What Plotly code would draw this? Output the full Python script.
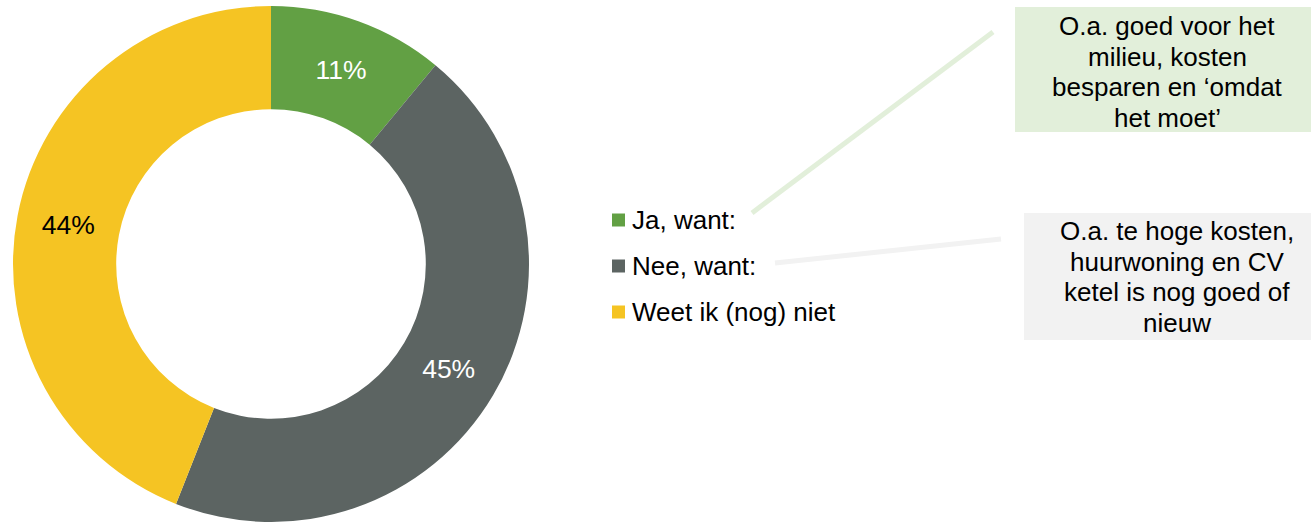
import plotly.graph_objects as go

categories = ["Ja, want:", "Nee, want:", "Weet ik (nog) niet"]
values = [11, 45, 44]
colors = ["#62A044", "#5C6462", "#F5C423"]
label_colors = ["#FFFFFF", "#FFFFFF", "#000000"]
reason_ja = ["O.a. goed voor het", "milieu, kosten", "besparen en ‘omdat", "het moet’"]
reason_nee = ["O.a. te hoge kosten,", "huurwoning en CV", "ketel is nog goed of", "nieuw"]

W, H = 1311, 522
FONT = "Liberation Sans, Arial, sans-serif"

def px(x):
    return x / W

def py(y):
    return 1 - y / H

fig = go.Figure()
fig.add_trace(go.Pie(
    labels=categories, values=values, sort=False, direction="clockwise",
    rotation=0, hole=0.6,
    marker=dict(colors=colors, line=dict(width=0)),
    texttemplate="%{percent:.0%}", textinfo="percent",
    textposition="inside", insidetextorientation="horizontal",
    textfont=dict(color=label_colors, size=26.5, family=FONT),
    domain=dict(x=[px(13), px(529)], y=[0, py(6)]),
    showlegend=False, hoverinfo="label+percent",
))

shapes = []
annotations = []

# legend
leg_y = [220, 266, 312]
for cat, col, y in zip(categories, colors, leg_y):
    shapes.append(dict(type="rect", xref="paper", yref="paper",
                       x0=px(612), x1=px(625), y0=py(y - 6.5), y1=py(y + 6.5),
                       fillcolor=col, line=dict(width=0)))
    annotations.append(dict(xref="paper", yref="paper", x=px(630), y=py(y),
                            xanchor="left", yanchor="middle", showarrow=False,
                            text=cat, font=dict(size=26, color="#000000", family=FONT)))

# callout boxes
shapes.append(dict(type="rect", xref="paper", yref="paper",
                   x0=px(1015), x1=px(1311), y0=py(132), y1=py(7),
                   fillcolor="#E2EFDA", line=dict(width=0), layer="below"))
shapes.append(dict(type="rect", xref="paper", yref="paper",
                   x0=px(1024), x1=px(1311), y0=py(340), y1=py(213),
                   fillcolor="#F2F2F2", line=dict(width=0), layer="below"))
# connector lines
shapes.append(dict(type="line", xref="paper", yref="paper",
                   x0=px(752), y0=py(213), x1=px(993), y1=py(32),
                   line=dict(color="#E2EFDA", width=5)))
shapes.append(dict(type="line", xref="paper", yref="paper",
                   x0=px(775), y0=py(263), x1=px(1001), y1=py(239),
                   line=dict(color="#F2F2F2", width=5)))

for i, line in enumerate(reason_ja):
    annotations.append(dict(xref="paper", yref="paper", x=px(1167), y=py(26 + 30.5 * i),
                            xanchor="center", yanchor="middle", showarrow=False,
                            text=line, font=dict(size=26, color="#000000", family=FONT)))
for i, line in enumerate(reason_nee):
    annotations.append(dict(xref="paper", yref="paper", x=px(1177), y=py(231 + 30.5 * i),
                            xanchor="center", yanchor="middle", showarrow=False,
                            text=line, font=dict(size=26, color="#000000", family=FONT)))

fig.update_layout(
    width=W, height=H, margin=dict(l=0, r=0, t=0, b=0),
    paper_bgcolor="white", plot_bgcolor="white",
    shapes=shapes, annotations=annotations,
    font=dict(family=FONT),
)
fig.write_html("out.html", config={"displayModeBar": False},
               post_script="document.body.style.margin='0';document.body.style.overflow='hidden';")
